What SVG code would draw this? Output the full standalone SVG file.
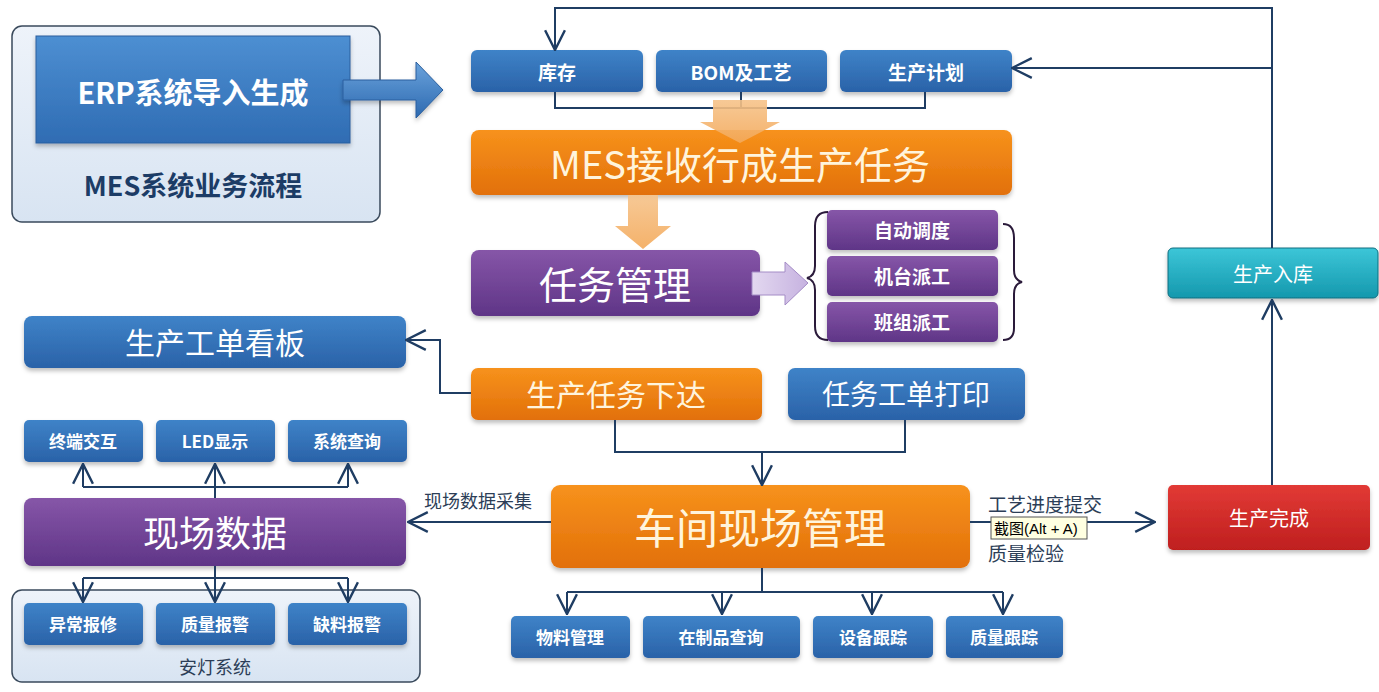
<svg xmlns="http://www.w3.org/2000/svg" width="1379" height="692" viewBox="0 0 1379 692">
<defs>
<linearGradient id="gBlue" x1="0" y1="0" x2="0" y2="1"><stop offset="0" stop-color="#3f83c8"/><stop offset="1" stop-color="#2a62a8"/></linearGradient>
<linearGradient id="gOrange" x1="0" y1="0" x2="0" y2="1"><stop offset="0" stop-color="#f7921c"/><stop offset="1" stop-color="#e2700a"/></linearGradient>
<linearGradient id="gPurple" x1="0" y1="0" x2="0" y2="1"><stop offset="0" stop-color="#8656a8"/><stop offset="1" stop-color="#5f3587"/></linearGradient>
<linearGradient id="gRed" x1="0" y1="0" x2="0" y2="1"><stop offset="0" stop-color="#e23a35"/><stop offset="1" stop-color="#bf1f1f"/></linearGradient>
<linearGradient id="gCyan" x1="0" y1="0" x2="0" y2="1"><stop offset="0" stop-color="#3cc6d8"/><stop offset="1" stop-color="#1598ad"/></linearGradient>
<linearGradient id="gPanel" x1="0" y1="0" x2="0" y2="1"><stop offset="0" stop-color="#eef3fa"/><stop offset="1" stop-color="#d8e4f2"/></linearGradient>
<linearGradient id="gErp" x1="0" y1="0" x2="0" y2="1"><stop offset="0" stop-color="#4d8fd2"/><stop offset="1" stop-color="#2f6cb3"/></linearGradient>
<linearGradient id="gBigArrow" x1="0" y1="0" x2="0" y2="1"><stop offset="0" stop-color="#6aa3dc"/><stop offset="1" stop-color="#2d69b0"/></linearGradient>
<linearGradient id="gLightOrange" x1="0" y1="0" x2="0" y2="1"><stop offset="0" stop-color="#f6c38a"/><stop offset="1" stop-color="#f3a95a"/></linearGradient>
<linearGradient id="gLightPurple" x1="0" y1="0" x2="1" y2="0"><stop offset="0" stop-color="#e3d8f0"/><stop offset="1" stop-color="#c6b2e0"/></linearGradient>
<filter id="sh" x="-10%" y="-20%" width="120%" height="150%"><feDropShadow dx="0" dy="3" stdDeviation="2" flood-color="#000" flood-opacity="0.25"/></filter>
<marker id="ahB" viewBox="0 0 20 20" refX="19" refY="10" markerWidth="22" markerHeight="22" markerUnits="userSpaceOnUse" orient="auto"><path d="M1,1 L19,10 L1,19" fill="none" stroke="#1f3d63" stroke-width="2.2"/></marker>
</defs>
<style>
.t{font-family:"Noto Sans CJK SC","Noto Sans",sans-serif;fill:#fff;text-anchor:middle;dominant-baseline:central}
.sm{font-size:19px;font-weight:bold}
.ss{font-size:17px;font-weight:bold}
.md{font-size:20px}
.lg{font-size:30px}
.xl{font-size:38px}
.lbl{font-family:"Noto Sans CJK SC","Noto Sans",sans-serif;fill:#2c3e57;font-size:18px}
.ln{fill:none;stroke:#1f3d63;stroke-width:2}
.blue{fill:url(#gBlue)}
.orange{fill:url(#gOrange)}
.purple{fill:url(#gPurple)}
</style>
<rect width="1379" height="692" fill="#fff"/>

<g id="mes-title">
<rect x="12" y="26" width="368" height="196" rx="10" fill="url(#gPanel)" stroke="#3a4a5c" stroke-width="1.5"/>
<rect x="36" y="36" width="314" height="107" fill="url(#gErp)" stroke="#2a5f9e" stroke-width="1" filter="url(#sh)"/>
<text class="t" x="193" y="91" style="font-size:29px;font-weight:bold">ERP系统导入生成</text>
<text class="t" x="193" y="184" style="font-size:27px;font-weight:bold;fill:#1c3c66">MES系统业务流程</text>
</g>

<g id="erp-arrow">
<path d="M343,80 L416,80 L416,62 L443,90 L416,118 L416,100 L343,100 Z" fill="url(#gBigArrow)" stroke="#2a5f9e" stroke-width="1" filter="url(#sh)"/>
</g>

<g id="n-kucun"><rect class="blue" x="471" y="50" width="172" height="42" rx="6" filter="url(#sh)"/><text class="t sm" x="557" y="71">库存</text></g>
<g id="n-bom"><rect class="blue" x="656" y="50" width="171" height="42" rx="6" filter="url(#sh)"/><text class="t sm" x="741" y="71">BOM及工艺</text></g>
<g id="n-plan"><rect class="blue" x="840" y="50" width="172" height="42" rx="6" filter="url(#sh)"/><text class="t sm" x="926" y="71">生产计划</text></g>

<g id="n-mes"><rect class="orange" x="471" y="130" width="541" height="65" rx="8" filter="url(#sh)"/><text class="t xl" x="740" y="162" style="fill:#fff4dc">MES接收行成生产任务</text></g>

<g id="n-task"><rect class="purple" x="471" y="250" width="289" height="66" rx="8" filter="url(#sh)"/><text class="t xl" x="615" y="282">任务管理</text></g>

<g id="n-auto"><rect class="purple" x="827" y="210" width="171" height="40" rx="5" filter="url(#sh)"/><text class="t sm" x="912" y="229">自动调度</text></g>
<g id="n-machine"><rect class="purple" x="827" y="256" width="171" height="40" rx="5" filter="url(#sh)"/><text class="t sm" x="912" y="275">机台派工</text></g>
<g id="n-team"><rect class="purple" x="827" y="302" width="171" height="40" rx="5" filter="url(#sh)"/><text class="t sm" x="912" y="321">班组派工</text></g>

<g id="n-board"><rect class="blue" x="24" y="316" width="382" height="52" rx="8" filter="url(#sh)"/><text class="t lg" x="215" y="341">生产工单看板</text></g>
<g id="n-issue"><rect class="orange" x="471" y="368" width="291" height="52" rx="7" filter="url(#sh)"/><text class="t lg" x="616" y="393" style="fill:#fff4dc">生产任务下达</text></g>
<g id="n-print"><rect class="blue" x="788" y="368" width="237" height="52" rx="7" filter="url(#sh)"/><text class="t lg" x="906" y="393" style="font-size:28px">任务工单打印</text></g>

<g id="n-term"><rect class="blue" x="24" y="420" width="119" height="42" rx="5" filter="url(#sh)"/><text class="t ss" x="83" y="440">终端交互</text></g>
<g id="n-led"><rect class="blue" x="156" y="420" width="119" height="42" rx="5" filter="url(#sh)"/><text class="t ss" x="215" y="440">LED显示</text></g>
<g id="n-query"><rect class="blue" x="288" y="420" width="119" height="42" rx="5" filter="url(#sh)"/><text class="t ss" x="347" y="440">系统查询</text></g>

<g id="n-fielddata"><rect class="purple" x="24" y="498" width="382" height="68" rx="8" filter="url(#sh)"/><text class="t xl" x="215" y="531" style="font-size:36px">现场数据</text></g>

<g id="n-workshop"><rect class="orange" x="551" y="485" width="419" height="83" rx="9" filter="url(#sh)"/><text class="t xl" x="760" y="525" style="font-size:42px;fill:#fff4dc">车间现场管理</text></g>

<g id="n-done"><rect x="1168" y="485" width="202" height="65" rx="5" fill="url(#gRed)" filter="url(#sh)"/><text class="t md" x="1269" y="517">生产完成</text></g>
<g id="n-store"><rect x="1168" y="248" width="210" height="50" rx="5" fill="url(#gCyan)" stroke="#0e6e80" stroke-width="1" filter="url(#sh)"/><text class="t md" x="1273" y="273">生产入库</text></g>

<g id="andon">
<rect x="12" y="590" width="408" height="92" rx="10" fill="url(#gPanel)" stroke="#3a4a5c" stroke-width="1.5"/>
<text class="lbl" x="215" y="666" text-anchor="middle" dominant-baseline="central">安灯系统</text>
</g>
<g id="n-abn"><rect class="blue" x="24" y="603" width="119" height="42" rx="5" filter="url(#sh)"/><text class="t ss" x="83" y="623">异常报修</text></g>
<g id="n-qual"><rect class="blue" x="156" y="603" width="119" height="42" rx="5" filter="url(#sh)"/><text class="t ss" x="215" y="623">质量报警</text></g>
<g id="n-lack"><rect class="blue" x="288" y="603" width="119" height="42" rx="5" filter="url(#sh)"/><text class="t ss" x="347" y="623">缺料报警</text></g>

<g id="n-mat"><rect class="blue" x="511" y="616" width="119" height="42" rx="5" filter="url(#sh)"/><text class="t ss" x="570" y="636">物料管理</text></g>
<g id="n-wip"><rect class="blue" x="643" y="616" width="157" height="42" rx="5" filter="url(#sh)"/><text class="t ss" x="721" y="636">在制品查询</text></g>
<g id="n-equip"><rect class="blue" x="813" y="616" width="120" height="42" rx="5" filter="url(#sh)"/><text class="t ss" x="873" y="636">设备跟踪</text></g>
<g id="n-qtrack"><rect class="blue" x="946" y="616" width="117" height="42" rx="5" filter="url(#sh)"/><text class="t ss" x="1004" y="636">质量跟踪</text></g>

<g id="connectors">
<path class="ln" d="M555,92 V108 H925 V92 M741,92 V108"/>
<path d="M713,100 H767 V122 H780 L740,143 L700,122 H713 Z" fill="url(#gLightOrange)" opacity="0.9"/>
<path d="M628,195 H658 V226 H671 L643,249 L615,226 H628 Z" fill="url(#gLightOrange)" opacity="0.9"/>
<path d="M752,272 H785 V262 L808,283 L785,305 V295 H752 Z" fill="url(#gLightPurple)" stroke="#a48cc6" stroke-width="1"/>
<path d="M828,212 Q815,212 815,226 V266 Q815,276 807,278 Q815,280 815,290 V326 Q815,340 828,340" fill="none" stroke="#2a1a3a" stroke-width="2"/>
<path d="M1003,224 Q1014,224 1014,238 V270 Q1014,280 1022,282 Q1014,284 1014,294 V328 Q1014,340 1003,340" fill="none" stroke="#2a1a3a" stroke-width="2"/>
<path class="ln" d="M1272,248 V8 H555 V50" marker-end="url(#ahB)"/>
<path class="ln" d="M1272,68 H1012" marker-end="url(#ahB)"/>
<path class="ln" d="M1272,485 V300" marker-end="url(#ahB)"/>
<path class="ln" d="M471,393 H440 V340 H406" marker-end="url(#ahB)"/>
<path class="ln" d="M615,420 V452 H905 V420"/>
<path class="ln" d="M762,452 V485" marker-end="url(#ahB)"/>
<path class="ln" d="M551,522 H408" marker-end="url(#ahB)"/>
<path class="ln" d="M970,522 H1155" marker-end="url(#ahB)"/>
<path class="ln" d="M762,568 V592 M567,592 H1003"/>
<path class="ln" d="M567,592 V614" marker-end="url(#ahB)"/>
<path class="ln" d="M722,592 V614" marker-end="url(#ahB)"/>
<path class="ln" d="M872,592 V614" marker-end="url(#ahB)"/>
<path class="ln" d="M1003,592 V614" marker-end="url(#ahB)"/>
<path class="ln" d="M215,498 V487 M83,487 H348"/>
<path class="ln" d="M83,487 V464" marker-end="url(#ahB)"/>
<path class="ln" d="M215,487 V464" marker-end="url(#ahB)"/>
<path class="ln" d="M348,487 V464" marker-end="url(#ahB)"/>
<path class="ln" d="M215,566 V578 M83,578 H348"/>
<path class="ln" d="M83,578 V602" marker-end="url(#ahB)"/>
<path class="ln" d="M215,578 V602" marker-end="url(#ahB)"/>
<path class="ln" d="M348,578 V602" marker-end="url(#ahB)"/>
</g>

<g id="labels">
<text class="lbl" x="424" y="500" dominant-baseline="central">现场数据采集</text>
<text class="lbl" x="988" y="503" dominant-baseline="central" style="font-size:19px">工艺进度提交</text>
<text class="lbl" x="988" y="552" dominant-baseline="central" style="font-size:19px">质量检验</text>
</g>

<g id="tooltip">
<rect x="991" y="517" width="96" height="22" fill="#ffffe1" stroke="#555" stroke-width="1"/>
<text x="994" y="528" dominant-baseline="central" style="font-family:'Liberation Sans','Noto Sans CJK SC',sans-serif;font-size:15px;fill:#000">截图(Alt + A)</text>
</g>
</svg>
